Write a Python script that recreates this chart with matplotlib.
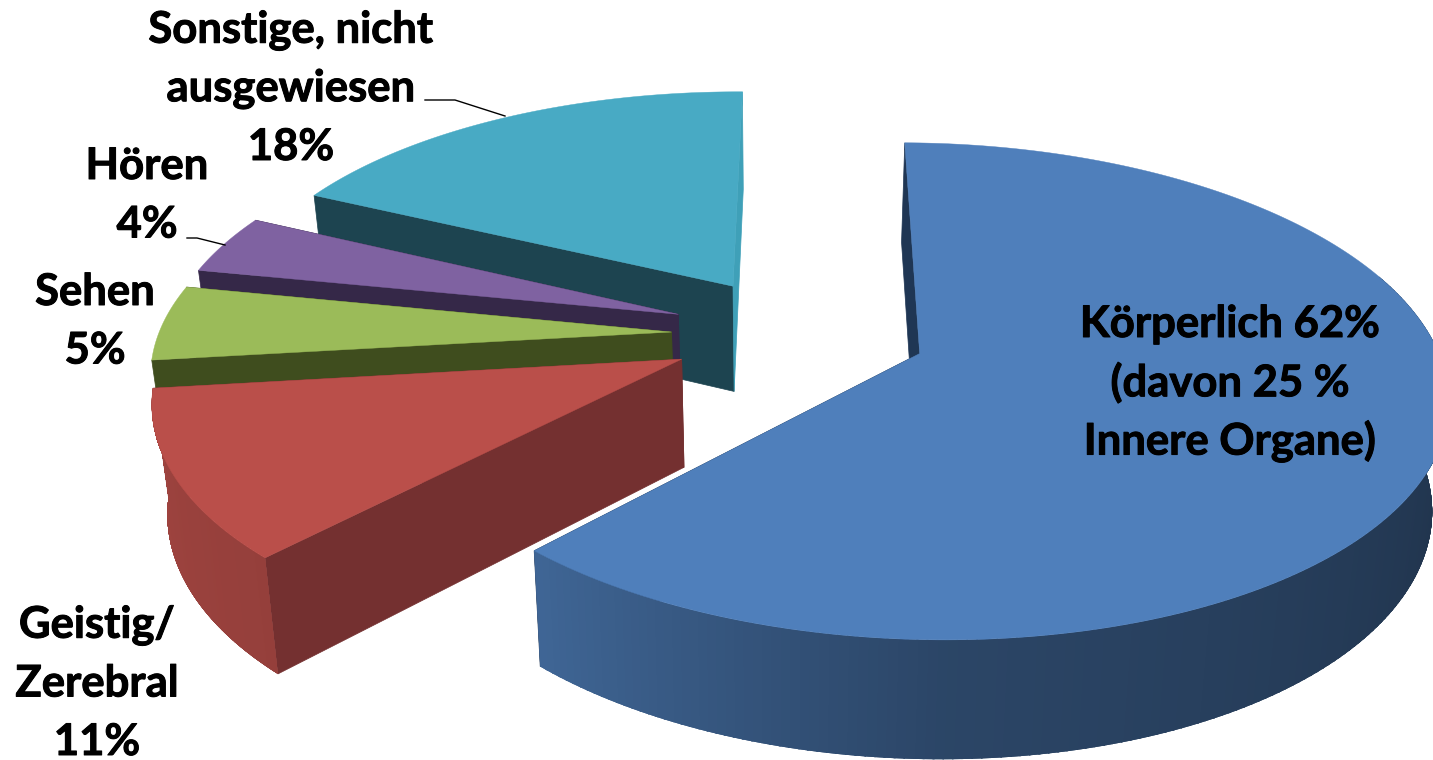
import numpy as np
import matplotlib
matplotlib.use('Agg')
import matplotlib.pyplot as plt
import matplotlib.patheffects as pe
from matplotlib.collections import PolyCollection
from matplotlib.patches import Polygon

# data
labels = ['Körperlich 62%\n(davon 25 %\nInnere Organe)', 'Geistig/\nZerebral\n11%', 'Sehen\n5%', 'Hören\n4%',
          'Sonstige, nicht\nausgewiesen\n18%']
values = [62, 11, 5, 4, 18]

# styling per slice
colors = ['#4f7fbb', '#ba4f4a', '#9bbb59', '#7f62a1', '#48aac4']
wall_first = ['#1f3654', '#743030', '#3f4d1e', '#352848', '#1d4450']
wall_second = ['#1f3654', '#743030', '#3f4d1e', '#352848', '#3fa0b8']
explode = [0.29, 0.2, 0.19, 0.2, 0.19]
nudge_u = [0.006, -0.004, -0.016, -0.005, 0.012]
nudge_v = [0.015, -0.028, -0.012, 0.008, 0.034]
label_pos = [(1230, 324), (97, 625), (95, 292), (147, 166), (291, 30)]

# projection of the tilted disc, in pixels
cx, cy = 777, 331
a, b = 512, 236
persp = 0.15
depth = 107
bottom_x, bottom_y = 0.975, 1.04
rotation = 0.5


def project(u, v, lower=False):
    s = 1 / (1 + persp * v)
    if lower:
        return cx + bottom_x * a * u * s, cy + depth - bottom_y * b * v * s
    return cx + a * u * s, cy - b * v * s


def rim_shade(theta):
    return np.interp(theta % 360, [0, 90, 180, 223, 265, 360], [0.36, 0.38, 0.55, 0.8, 0.86, 0.86])


def darker(color, f):
    return tuple(c * f for c in matplotlib.colors.to_rgb(color))


fig = plt.figure(figsize=(14.33, 7.6), dpi=100)
ax = fig.add_axes([0, 0, 1, 1])
ax.set_xlim(0, 1433)
ax.set_ylim(760, 0)
ax.axis('off')

starts = np.cumsum([0] + values[:-1]) * 3.6 + rotation
spans = np.array(values) * 3.6

# back slices first, blue comes last so it sits in front
for i in [4, 3, 2, 1, 0]:
    z = 10 + (4 - i) * 10
    t1, t2 = starts[i], starts[i] + spans[i]
    mid = np.radians((t1 + t2) / 2)
    ou = explode[i] * np.sin(mid) + nudge_u[i]
    ov = explode[i] * np.cos(mid) + nudge_v[i]
    th = np.radians(np.linspace(t1, t2, 240))
    ru, rv = ou + np.sin(th), ov + np.cos(th)

    top = np.column_stack(project(ru, rv))
    low = np.column_stack(project(ru, rv, lower=True))
    apex = np.array(project(ou, ov))
    apex_low = np.array(project(ou, ov, lower=True))

    # flat cut faces
    ax.fill(*zip(apex, top[0], low[0], apex_low), color=wall_first[i], lw=0.5, zorder=z)
    ax.fill(*zip(apex, top[-1], low[-1], apex_low), color=wall_second[i], lw=0.5, zorder=z + 1)

    # outer rim, only the part that faces the viewer, shaded strip by strip
    deg = np.degrees(th)
    keep = np.where((deg > 70) & (deg < 263.4))[0]
    if len(keep) > 2:
        quads = [[top[k], top[k + 1], low[k + 1], low[k]] for k in keep[:-1]]
        shades = [darker(colors[i], rim_shade(deg[k])) for k in keep[:-1]]
        rim = Polygon(np.vstack([top[keep], low[keep][::-1]]), closed=True, transform=ax.transData)
        strips = PolyCollection(quads, facecolors=shades, edgecolors=shades, linewidths=1.0,
                                antialiaseds=False, zorder=z + 2)
        ax.add_collection(strips)
        strips.set_clip_path(rim)

    ax.fill(*zip(*np.vstack([apex, top])), color=colors[i], lw=0.3, zorder=z + 3)

# leader lines
ax.plot([425, 455, 505], [100, 100, 116], color='black', lw=1, zorder=100)
ax.plot([187, 197, 225], [238, 238, 245], color='black', lw=1, zorder=100)

for text, (x, y) in zip(labels, label_pos):
    for n, line in enumerate(text.split('\n')):
        ax.text(x, y + n * 58.5, line, ha='center', va='center', fontsize=31.4, fontweight='bold',
                family='Lato', color='black', zorder=110,
                path_effects=[pe.withStroke(linewidth=0.7, foreground='black')])

fig.savefig('out.png', dpi=100)
